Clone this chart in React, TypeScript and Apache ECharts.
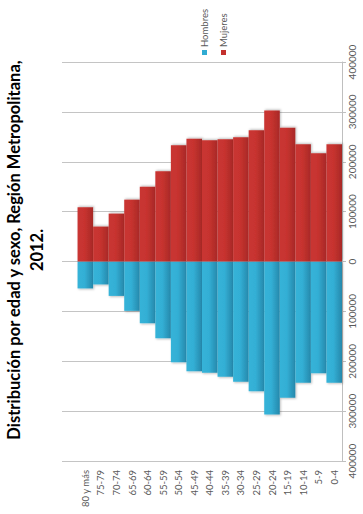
import React, { useEffect, useRef } from "react";
import * as echarts from "echarts";

const categories = ["", "80 y más", "75-79", "70-74", "65-69", "60-64", "55-59", "50-54", "45-49", "40-44", "35-39", "30-34", "25-29", "20-24", "15-19", "10-14", "5-9", "0-4"];
const hombres = [null, 54000, 46000, 69000, 99000, 124000, 154000, 202000, 220000, 223000, 231000, 241000, 260000, 307000, 273000, 243000, 224000, 243000];
const mujeres = [null, 109000, 70000, 96000, 124000, 150000, 181000, 233000, 246000, 243000, 245000, 249000, 263000, 303000, 268000, 235000, 217000, 235000];
const titleText = "Distribución por edad y sexo, Región Metropolitana,\n2012.";
const legendNames = ["Hombres", "Mujeres"];

const BLUE = "#30abd2";
const RED = "#c3302d";

export default function App() {
  const ref = useRef<HTMLDivElement>(null);
  useEffect(() => {
    if (!ref.current) return;
    const chart = echarts.init(ref.current, null, { renderer: "svg" });
    const grad = (a: string, b: string, c: string) =>
      new echarts.graphic.LinearGradient(0, 0, 1, 0, [
        { offset: 0, color: a },
        { offset: 0.45, color: b },
        { offset: 1, color: c },
      ]);
    chart.setOption({
      animation: false,
      grid: { left: 62, right: 21, top: 62, bottom: 53, containLabel: false },
      xAxis: {
        type: "category",
        data: categories,
        position: "bottom",
        axisLine: { show: false },
        axisTick: { show: false },
        axisLabel: { rotate: 90, fontSize: 9.5, color: "#595959", fontFamily: "Lato", margin: 9, interval: 0 },
      },
      yAxis: {
        type: "value",
        position: "right",
        min: -400000,
        max: 400000,
        interval: 100000,
        axisLine: { show: true, lineStyle: { color: "#bfbfbf" } },
        axisTick: { show: true, length: 4, lineStyle: { color: "#bfbfbf" } },
        splitLine: { show: true, lineStyle: { color: "#c4c4c4" } },
        axisLabel: {
          rotate: 90,
          fontSize: 10,
          color: "#595959",
          fontFamily: "Lato",
          margin: 5,
          formatter: (v: number) => String(Math.abs(v)),
        },
      },
      series: [
        {
          name: legendNames[0],
          type: "bar",
          data: hombres.map((v) => (v == null ? null : -v)),
          barGap: "-100%",
          barCategoryGap: "0%",
          itemStyle: {
            color: grad("#36b3d8", "#33afd5", "#2688ab"),
            shadowColor: "rgba(0,0,0,0.25)",
            shadowBlur: 2,
            shadowOffsetX: 1,
            shadowOffsetY: 1,
          },
        },
        {
          name: legendNames[1],
          type: "bar",
          data: mujeres,
          barGap: "-100%",
          barCategoryGap: "0%",
          itemStyle: {
            color: grad("#c93633", "#c7332f", "#a82927"),
            shadowColor: "rgba(0,0,0,0.25)",
            shadowBlur: 2,
            shadowOffsetX: 1,
            shadowOffsetY: -1,
          },
        },
      ],
      graphic: [
        {
          type: "text",
          x: 25,
          y: 250,
          rotation: Math.PI / 2,
          style: {
            text: titleText,
            fontFamily: "Lato",
            fontWeight: "bold",
            fontSize: 16.5,
            lineHeight: 23,
            fill: "#000",
            align: "center",
            verticalAlign: "middle",
          },
        },
        { type: "rect", shape: { x: 202, y: 50, width: 5, height: 5 }, style: { fill: BLUE } },
        {
          type: "text",
          x: 204.5,
          y: 47,
          rotation: Math.PI / 2,
          style: { text: legendNames[0], fontFamily: "Lato", fontSize: 9.5, fill: "#595959", align: "left", verticalAlign: "middle" },
        },
        { type: "rect", shape: { x: 221, y: 50, width: 5, height: 5 }, style: { fill: RED } },
        {
          type: "text",
          x: 223.5,
          y: 47,
          rotation: Math.PI / 2,
          style: { text: legendNames[1], fontFamily: "Lato", fontSize: 9.5, fill: "#595959", align: "left", verticalAlign: "middle" },
        },
      ],
    });
    return () => chart.dispose();
  }, []);
  return <div ref={ref} style={{ width: 363, height: 514, position: "absolute", left: 0, top: 0 }} />;
}
